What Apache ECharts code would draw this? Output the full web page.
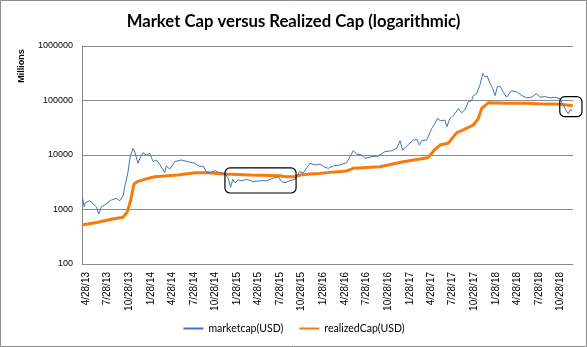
<!DOCTYPE html>
<html>
<head>
<meta charset="utf-8">
<script src="https://cdn.jsdelivr.net/npm/echarts@6/dist/echarts.min.js"></script>
<style>
  html, body { margin: 0; padding: 0; background: #fff; }
  #chart { width: 587px; height: 347px; }
</style>
</head>
<body>
<div id="chart"></div>
<script>
// Quarterly date labels on the date axis
const tickLabels = ['4/28/13','7/28/13','10/28/13','1/28/14','4/28/14','7/28/14','10/28/14',
  '1/28/15','4/28/15','7/28/15','10/28/15','1/28/16','4/28/16','7/28/16','10/28/16',
  '1/28/17','4/28/17','7/28/17','10/28/17','1/28/18','4/28/18','7/28/18','10/28/18'];

// Market capitalisation, millions of USD
const marketDates = ['2013-04-14','2013-04-20','2013-04-25','2013-05-14','2013-05-28','2013-06-11','2013-06-21',
  '2013-07-02','2013-07-16','2013-08-13','2013-09-03','2013-09-18','2013-10-02','2013-10-09','2013-10-23',
  '2013-11-01','2013-11-13','2013-11-20','2013-11-27','2013-12-04','2013-12-15','2013-12-25','2014-01-08',
  '2014-01-23','2014-02-06','2014-02-20','2014-03-06','2014-03-27','2014-04-03','2014-04-17','2014-05-08',
  '2014-06-05','2014-07-04','2014-08-01','2014-08-22','2014-09-05','2014-09-19','2014-10-05','2014-10-26',
  '2014-11-16','2014-12-07','2014-12-21','2014-12-31','2015-01-09','2015-01-19','2015-02-02','2015-02-16',
  '2015-03-09','2015-04-06','2015-05-04','2015-06-02','2015-06-27','2015-07-21','2015-08-04','2015-08-18',
  '2015-09-08','2015-09-29','2015-10-18','2015-11-04','2015-12-02','2015-12-23','2016-01-13','2016-02-03',
  '2016-02-17','2016-03-10','2016-04-07','2016-05-05','2016-05-19','2016-06-02','2016-06-17','2016-07-08',
  '2016-07-22','2016-08-19','2016-09-16','2016-10-14','2016-11-12','2016-12-03','2016-12-17','2016-12-28',
  '2017-01-14','2017-02-11','2017-02-26','2017-03-09','2017-03-19','2017-04-09','2017-04-30','2017-05-14',
  '2017-05-24','2017-06-07','2017-06-25','2017-07-03','2017-07-16','2017-08-07','2017-08-21','2017-09-04',
  '2017-09-18','2017-10-02','2017-10-16','2017-10-23','2017-11-06','2017-11-20','2017-12-02','2017-12-11',
  '2017-12-21','2018-01-02','2018-01-13','2018-01-23','2018-02-02','2018-02-13','2018-02-27','2018-03-13',
  '2018-04-03','2018-04-25','2018-05-16','2018-06-06','2018-06-27','2018-07-18','2018-08-01','2018-08-22',
  '2018-09-13','2018-10-04','2018-10-25','2018-11-08','2018-11-19','2018-11-29','2018-12-09','2018-12-16'];
const marketValues = [1600,1125,1333,1450,1260,1125,826,
  1125,1210,1493,1600,1450,1770,2620,4940,
  9300,13300,11500,12300,7050,9300,11000,10000,
  10700,7530,8100,6750,4730,6300,5470,7530,
  8100,7530,7050,6100,6300,4940,4730,5150,
  4730,4600,3720,2550,3580,3090,3480,3370,
  3580,3240,3370,3370,3720,4000,3240,3090,
  3370,3580,4940,4730,7050,6570,6800,5950,
  5700,6300,6570,7230,9300,12000,10400,10000,
  8700,9300,9600,11500,12000,13300,18300,12300,
  14600,18800,19300,15200,18300,18800,30600,38000,
  46900,42500,43700,33000,46900,57700,71900,59200,
  68000,95100,100000,123000,134000,190000,313000,272000,
  281000,206000,167000,123000,178000,183000,144000,115000,
  151000,144000,123000,112000,115000,134000,115000,118000,
  112000,115000,107000,82700,67000,57000,68000,65000];

// Realized capitalisation, millions of USD
const realizedDates = ['2013-04-11','2013-06-18','2013-08-12','2013-10-02','2013-10-20','2013-11-03','2013-11-17',
  '2013-12-01','2014-01-01','2014-02-13','2014-05-22','2014-08-01','2014-09-26','2014-11-29','2015-03-23',
  '2015-07-28','2015-08-18','2015-09-29','2015-10-21','2015-12-02','2016-01-13','2016-02-25','2016-05-05',
  '2016-06-01','2016-09-23','2016-12-30','2017-03-12','2017-04-14','2017-05-14','2017-06-04','2017-07-09',
  '2017-08-14','2017-09-11','2017-10-23','2017-11-13','2017-11-28','2017-12-26','2018-03-13','2018-06-06',
  '2018-08-01','2018-10-11','2018-11-22','2018-12-18'];
const realizedValues = [520,582,661,720,912,1490,2940,
  3240,3580,4000,4290,4730,4730,4480,4300,
  4170,4000,4000,4290,4480,4600,4800,5080,
  5700,6100,7530,8450,8920,12700,15200,16400,
  25700,28800,35500,46600,71900,91200,89200,89000,
  86300,86000,82700,80300];

// Rounded call-out frames: [start date, end date, upper value, lower value]
const calloutFrames = [
  ['2014-12-07', '2015-10-04', 5780, 2010],
  ['2018-10-24', '2019-01-26', 117500, 50500]
];

function toTime(iso) {
  const [y, m, d] = iso.split('-').map(Number);
  return new Date(y, m - 1, d).getTime();
}
function labelToTime(lbl) {
  const [m, d, y] = lbl.split('/').map(Number);
  return new Date(2000 + y, m - 1, d).getTime();
}
function fmtLabel(t) {
  const dt = new Date(t);
  return (dt.getMonth() + 1) + '/' + dt.getDate() + '/' + String(dt.getFullYear()).slice(2);
}

const marketData = marketDates.map((d, i) => [toTime(d), marketValues[i]]);
const realizedData = realizedDates.map((d, i) => [toTime(d), realizedValues[i]]);
const tickTimes = tickLabels.map(labelToTime);

const chart = echarts.init(document.getElementById('chart'), null, { renderer: 'canvas' });

const option = {
  animation: false,
  backgroundColor: '#ffffff',
  title: {
    text: 'Market Cap versus Realized Cap (logarithmic)',
    left: 'center',
    top: 8,
    textStyle: { fontFamily: 'Lato', fontWeight: 'bold', fontSize: 16.7, color: '#000' }
  },
  grid: { left: 82, right: 14, top: 46, bottom: 83 },
  legend: {
    bottom: 8,
    left: 'center',
    itemWidth: 20,
    itemHeight: 10,
    itemGap: 15,
    itemStyle: { opacity: 0 },
    textStyle: { fontFamily: 'Lato', fontSize: 10.5, color: '#000' },
    data: ['marketcap(USD)', 'realizedCap(USD)']
  },
  xAxis: {
    type: 'value',
    min: toTime('2013-04-11'),
    max: toTime('2018-12-19'),
    axisLine: { show: true, lineStyle: { color: '#8a8a8a', width: 1 } },
    axisTick: { show: false },
    splitLine: { show: false },
    axisLabel: {
      customValues: tickTimes,
      rotate: 90,
      margin: 8,
      fontFamily: 'Liberation Sans',
      fontSize: 10,
      color: '#000',
      formatter: (v) => fmtLabel(v)
    }
  },
  yAxis: {
    type: 'log',
    logBase: 10,
    min: 100,
    max: 1000000,
    axisLine: { show: true, lineStyle: { color: '#8a8a8a', width: 1 } },
    axisTick: { show: false },
    splitLine: { show: true, lineStyle: { color: '#8a8a8a', width: 1 } },
    axisLabel: {
      margin: 9,
      fontFamily: 'Liberation Sans',
      fontSize: 9,
      color: '#000',
      formatter: (v) => String(Math.round(v))
    }
  },
  series: [
    {
      name: 'marketcap(USD)',
      type: 'line',
      data: marketData,
      symbol: 'none',
      lineStyle: { color: '#4472c4', width: 1 },
      itemStyle: { color: '#4472c4' },
      z: 3
    },
    {
      name: 'realizedCap(USD)',
      type: 'line',
      data: realizedData,
      symbol: 'none',
      lineStyle: { color: '#f97a0c', width: 3 },
      itemStyle: { color: '#f97a0c' },
      z: 2
    }
  ]
};

chart.setOption(option);

// Outer frame, axis caption and call-out frames placed from the chart's own scales
const graphics = [
  {
    type: 'rect',
    shape: { x: 0.5, y: 0.5, width: 586, height: 346 },
    style: { fill: 'none', stroke: '#8c8c8c', lineWidth: 1 },
    silent: true
  },
  {
    type: 'text',
    x: 22, y: 66,
    rotation: Math.PI / 2,
    style: {
      text: 'Millions', fontFamily: 'Liberation Sans', fontWeight: 'bold', fontSize: 9,
      fill: '#000', textAlign: 'center', textVerticalAlign: 'middle'
    },
    silent: true
  }
];
calloutFrames.forEach(([d0, d1, vTop, vBot]) => {
  const p0 = chart.convertToPixel({ gridIndex: 0 }, [toTime(d0), vTop]);
  const p1 = chart.convertToPixel({ gridIndex: 0 }, [toTime(d1), vBot]);
  graphics.push({
    type: 'rect',
    shape: { x: p0[0], y: p0[1], width: p1[0] - p0[0], height: p1[1] - p0[1], r: 5 },
    style: { fill: 'none', stroke: '#000', lineWidth: 1.2 },
    z: 10,
    silent: true
  });
});
chart.setOption({ graphic: graphics });
</script>
</body>
</html>
